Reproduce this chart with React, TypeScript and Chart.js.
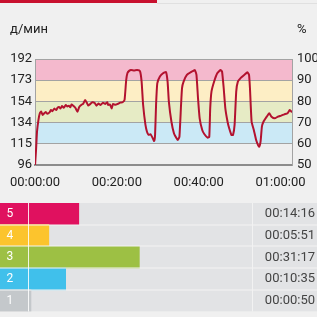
import React, { useEffect, useRef } from "react";
import { Chart, registerables } from "chart.js";

Chart.register(...registerables);

const MAX_HR = 192;

// heart-rate trace: time in minutes, value in % of max HR
const hrTimeMin = [
  0, 0.24, 0.47, 0.82, 1.18, 1.5, 1.88, 2.2, 2.59, 3.0, 3.53, 3.9, 4.24, 4.7, 5.18, 5.5, 5.88, 6.2, 6.59, 7.0,
  7.53, 7.9, 8.24, 8.6, 8.94, 9.3, 9.88, 10.35, 10.8, 11.29, 11.8, 12.24, 12.7, 13.0, 13.41, 14.0, 14.59, 15.0,
  15.5, 16.0, 16.6, 17.18, 17.65, 17.88, 18.3, 18.75, 19.06, 19.6, 20.24, 20.8, 21.41, 21.88, 22.28, 22.59, 23.0,
  23.46, 24.2, 24.94, 25.65, 26.05, 26.42, 26.99, 27.36, 27.76, 28.24, 28.78, 29.11, 29.34, 29.58, 29.88, 30.52,
  31.29, 32.0, 32.4, 32.71, 33.34, 33.95, 34.59, 34.89, 35.29, 35.69, 35.93, 36.31, 37.11, 38.28, 39.06, 39.46,
  39.84, 40.24, 40.87, 41.41, 42.19, 42.59, 42.82, 43.13, 43.76, 44.54, 45.34, 45.72, 46.12, 46.52, 47.06, 47.46,
  48.0, 48.4, 48.78, 49.18, 49.58, 50.35, 51.13, 51.93, 52.31, 52.54, 52.94, 53.48, 54.05, 54.52, 54.82, 55.13,
  55.46, 55.84, 56.64, 57.25, 57.81, 58.59, 59.36, 60.16, 60.94, 61.72, 62.28, 62.82,
];
const hrPct = [
  50, 57.1, 65.6, 71.2, 74.5, 75.2, 73.6, 74.3, 75.0, 74.2, 74.8, 76.0, 75.4, 76.6, 75.9, 77.0, 77.4, 76.6, 77.8, 77.0,
  78.3, 77.6, 78.0, 77.2, 78.6, 78.0, 76.9, 75.1, 77.4, 78.3, 79.0, 80.7, 79.2, 78.0, 78.6, 79.6, 79.2, 78.0,
  79.0, 78.3, 79.4, 78.8, 79.6, 78.3, 78.6, 76.7, 78.8, 78.4, 78.8, 79.4, 79.6, 80.7, 90.1, 93.4, 94.4,
  94.8, 94.6, 94.8, 94.3, 89.3, 78.3, 68.9, 65.7, 64.2, 64.5, 62.6, 61.3, 64.2, 78.3, 88.5, 91.7,
  93.3, 93.9, 89.3, 79.9, 70.4, 65.0, 62.6, 61.8, 63.3, 78.3, 86.3, 89.3, 92.5, 94.0, 94.8, 92.5,
  81.5, 72.0, 66.5, 64.5, 62.9, 63.3, 76.7, 84.6, 89.3, 93.3, 94.8, 94.0, 86.2, 76.7, 70.4, 67.3,
  64.2, 64.2, 68.9, 84.6, 89.3, 91.2, 92.5, 93.7, 92.5, 86.2, 70.4, 66.5, 61.8, 59.4, 58.6, 61.0,
  68.1, 70.4, 72.8, 74.4, 72.8, 72.0, 72.8, 73.3, 73.9, 74.4, 75.9, 74.9,
];

// zone bands (% of max HR)
const bandEdges = [50, 60, 70, 80, 90, 100];
const bandColors = ["#efefef", "#cbe9f6", "#e6ebc5", "#fdeec5", "#f4b9cd"];

// zones summary
const zoneNames = ["5", "4", "3", "2", "1"];
const zoneSeconds = [856, 351, 1877, 635, 50];
const zoneColors = ["#e0115f", "#fcc42d", "#9dc044", "#40c0eb", "#c4c8cb"];

const totalMin = zoneSeconds.reduce((a, b) => a + b, 0) / 60;
const CELL_MIN = 7.87; // width of the zone-number cell, in minutes of the bar scale
const BAR_X_MAX = 81.2;

const FONT = "Roboto";
const TEXT = "#222222";

function fmt(sec: number): string {
  const s = Math.round(sec);
  const h = Math.floor(s / 3600);
  const m = Math.floor((s % 3600) / 60);
  const r = s % 60;
  const p = (n: number) => String(n).padStart(2, "0");
  return `${p(h)}:${p(m)}:${p(r)}`;
}

const bandsPlugin = {
  id: "bands",
  beforeDraw(chart: any) {
    const { ctx, chartArea } = chart;
    const y = chart.scales.y2;
    ctx.save();
    for (let i = 0; i < bandColors.length; i++) {
      const top = y.getPixelForValue(bandEdges[i + 1]);
      const bot = y.getPixelForValue(bandEdges[i]);
      ctx.fillStyle = bandColors[i];
      ctx.fillRect(chartArea.left, top, chartArea.right - chartArea.left, bot - top);
    }
    ctx.restore();
  },
  afterDraw(chart: any) {
    const { ctx } = chart;
    ctx.save();
    ctx.font = `13px ${FONT}`;
    ctx.fillStyle = TEXT;
    ctx.textBaseline = "middle";
    ctx.textAlign = "left";
    ctx.fillText("д/мин", chart.scales.y.left, 30);
    ctx.fillText("%", chart.scales.y2.left + 5, 30);
    ctx.restore();
  },
};

const barTextPlugin = {
  id: "barText",
  afterDatasetsDraw(chart: any) {
    const { ctx, chartArea } = chart;
    const x = chart.scales.x;
    const y = chart.scales.y;
    ctx.save();
    // row separators
    ctx.fillStyle = "#f4f4f4";
    for (let i = 0; i < zoneNames.length - 1; i++) {
      const yy = Math.round((y.getPixelForValue(i) + y.getPixelForValue(i + 1)) / 2);
      ctx.fillRect(chartArea.left, yy - 0.5, chartArea.right - chartArea.left, 1);
    }
    // vertical dividers
    const x0 = Math.round(x.getPixelForValue(0)) + 0.5;
    const xt = Math.round(x.getPixelForValue(totalMin)) + 0.5;
    ctx.lineWidth = 1;
    ctx.strokeStyle = "rgba(255,255,255,0.85)";
    ctx.beginPath();
    ctx.moveTo(x0, chartArea.top);
    ctx.lineTo(x0, chartArea.bottom);
    ctx.stroke();
    ctx.strokeStyle = "#f2f2f2";
    ctx.beginPath();
    ctx.moveTo(xt, chartArea.top);
    ctx.lineTo(xt, chartArea.bottom);
    ctx.stroke();
    // texts
    ctx.textBaseline = "middle";
    for (let i = 0; i < zoneNames.length; i++) {
      const yc = y.getPixelForValue(i);
      ctx.font = `12px ${FONT}`;
      ctx.fillStyle = "#ffffff";
      ctx.textAlign = "left";
      ctx.fillText(zoneNames[i], x.getPixelForValue(-CELL_MIN) + 6.5, yc);
      ctx.font = `13px ${FONT}`;
      ctx.fillStyle = "#444444";
      ctx.textAlign = "right";
      ctx.fillText(fmt(zoneSeconds[i]), chartArea.right - 2, yc);
    }
    ctx.restore();
  },
};

export default function App() {
  const lineRef = useRef<HTMLCanvasElement>(null);
  const barRef = useRef<HTMLCanvasElement>(null);

  useEffect(() => {
    const tickFont = { family: FONT, size: 13 };
    const lineChart = new Chart(lineRef.current!, {
      type: "line",
      data: {
        datasets: [
          {
            data: hrTimeMin.map((t, i) => ({ x: t, y: hrPct[i] })),
            yAxisID: "y2",
            borderColor: "#b3122f",
            borderWidth: 2,
            pointRadius: 0,
            tension: 0.15,
            fill: false,
          },
        ],
      },
      options: {
        responsive: false,
        animation: false,
        layout: { padding: { top: 59, left: 0, right: 0, bottom: 0 } },
        plugins: { legend: { display: false }, tooltip: { enabled: false } },
        scales: {
          x: {
            type: "linear",
            min: 0,
            max: totalMin,
            grid: { display: false, drawTicks: false },
            border: { display: true, color: "#8c8c8c", width: 2 },
            ticks: {
              stepSize: 20,
              includeBounds: false,
              autoSkip: false,
              maxRotation: 0,
              padding: 10,
              color: TEXT,
              font: tickFont,
              callback: (v: any) => fmt(Number(v) * 60),
            },
            afterFit: (s: any) => {
              s.height = 30;
            },
          },
          y: {
            position: "left",
            min: 50,
            max: 100,
            grid: { color: "#a3a3a3", drawTicks: false },
            border: { display: true, color: "#a3a3a3" },
            ticks: {
              stepSize: 10,
              padding: 3,
              color: TEXT,
              font: tickFont,
              callback: (v: any) => String(Math.round((Number(v) * MAX_HR) / 100)),
            },
            afterFit: (s: any) => {
              s.width = 25;
            },
          },
          y2: {
            position: "right",
            min: 50,
            max: 100,
            grid: { display: false, drawTicks: false },
            border: { display: true, color: "#a3a3a3" },
            ticks: { stepSize: 10, padding: 5, color: TEXT, font: tickFont },
            afterFit: (s: any) => {
              s.width = 25;
            },
          },
        },
      } as any,
      plugins: [bandsPlugin],
    });

    const minutes = zoneSeconds.map((s) => s / 60);
    const common = { grouped: false, barPercentage: 1, categoryPercentage: 1, borderWidth: 0 };
    const barChart = new Chart(barRef.current!, {
      type: "bar",
      data: {
        labels: zoneNames,
        datasets: [
          { ...common, data: minutes.map((m) => [0, m]), backgroundColor: zoneColors, order: 1 },
          { ...common, data: minutes.map(() => [-CELL_MIN, 0]), backgroundColor: zoneColors, order: 2 },
          { ...common, data: minutes.map(() => [-CELL_MIN, BAR_X_MAX]), backgroundColor: "#e2e3e5", order: 3 },
        ] as any,
      },
      options: {
        indexAxis: "y",
        responsive: false,
        animation: false,
        layout: { padding: { top: 8, bottom: 5.5, left: 0, right: 0 } },
        plugins: { legend: { display: false }, tooltip: { enabled: false } },
        scales: {
          x: { type: "linear", min: -CELL_MIN, max: BAR_X_MAX, display: false },
          y: { display: false },
        },
      } as any,
      plugins: [barTextPlugin],
    });

    return () => {
      lineChart.destroy();
      barChart.destroy();
    };
  }, []);

  return (
    <div
      style={{
        position: "fixed",
        left: 0,
        top: 0,
        width: 317,
        height: 317,
        background: "#f0f0f0",
        overflow: "hidden",
      }}
    >
      <div style={{ position: "absolute", left: 0, top: 0, width: 157, height: 3, background: "#c8102e" }} />
      <div style={{ position: "absolute", left: 157, top: 3, width: 160, height: 1, background: "#e0e0e0" }} />
      <canvas
        ref={lineRef}
        width={317}
        height={195}
        style={{ position: "absolute", left: 0, top: 0, display: "block" }}
      />
      <canvas
        ref={barRef}
        width={317}
        height={122}
        style={{ position: "absolute", left: 0, top: 195, display: "block" }}
      />
    </div>
  );
}
